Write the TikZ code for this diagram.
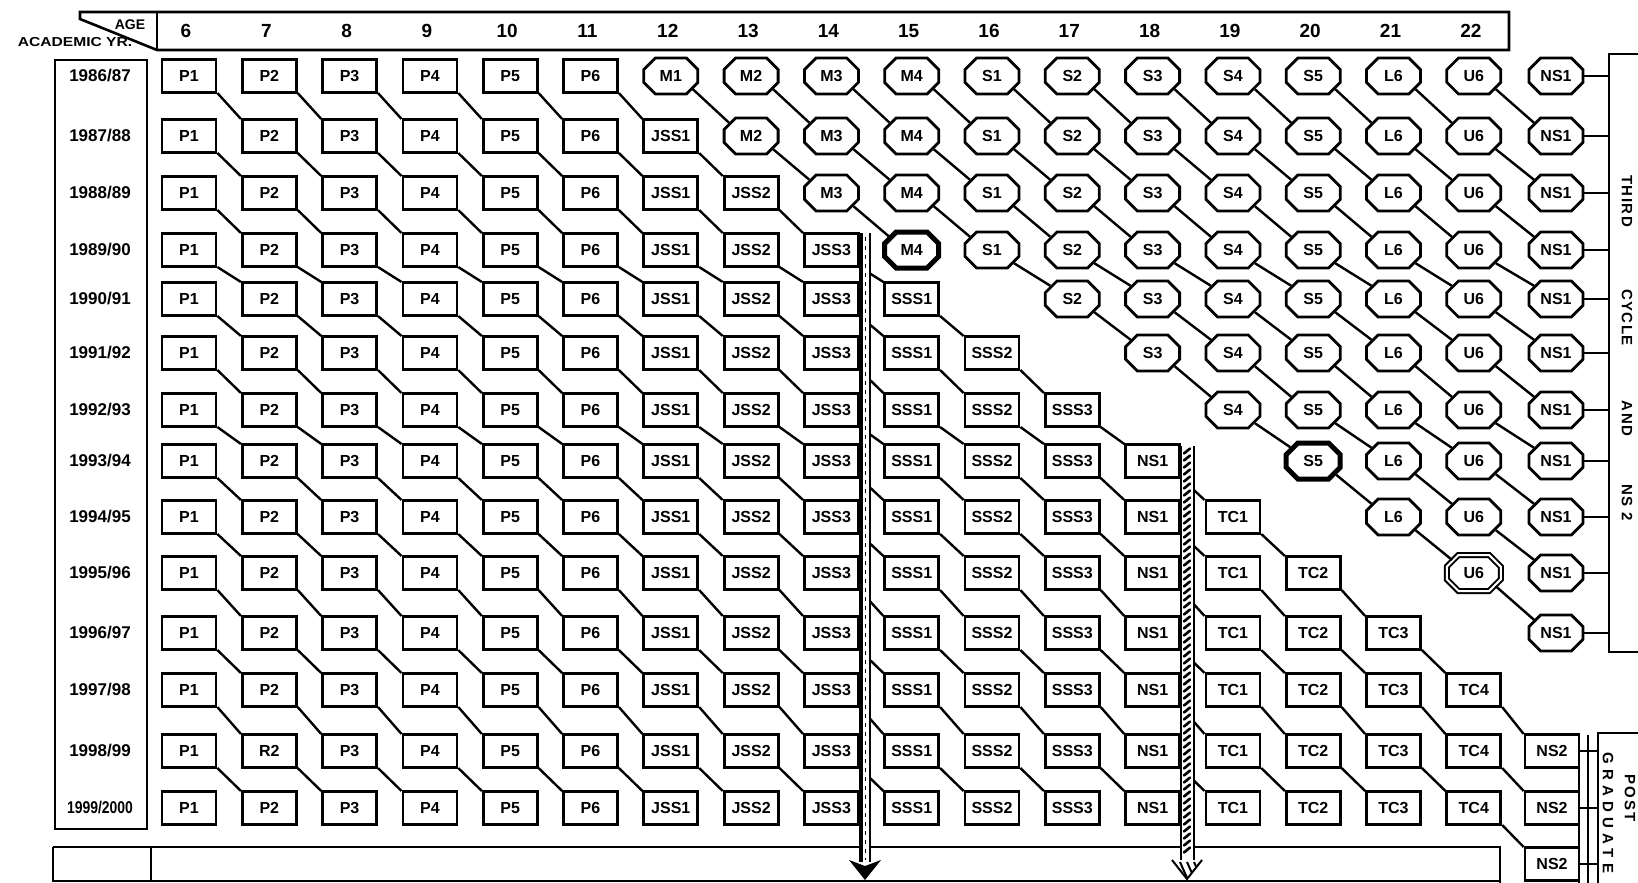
\documentclass[tikz,border=0pt]{standalone}
\usepackage{fontspec}
\setmainfont{Liberation Sans}
\usetikzlibrary{shapes.misc}
\makeatletter
\newcommand\IfNodeTF[3]{\pgfutil@ifundefined{pgf@sh@ns@#1}{#3}{#2}}
\makeatother
\newcommand\rowlist{{76,136,193,250,299,353,410,461,517,573,633,690,751,808,864}}
\tikzset{
  lbl/.style={font=\fontsize{16}{16}\selectfont\bfseries},
  rbox/.style={draw, rectangle, line width=2.8pt, minimum width=54pt, minimum height=33pt, inner sep=0pt, fill=white, lbl},
  obox/.style={draw, chamfered rectangle, chamfered rectangle xsep=9pt, chamfered rectangle ysep=6pt, line width=2.8pt, minimum width=54pt, minimum height=36pt, inner sep=0pt, fill=white, lbl},
  boldbox/.style={obox, line width=5pt},
  dblbox/.style={obox, double, double distance=2pt, line width=2pt},
  link/.style={line width=2.4pt},
  frame/.style={line width=2.6pt},
  yr/.style={font=\fontsize{17}{17}\selectfont\bfseries, inner sep=0pt},
  age/.style={font=\fontsize{19}{19}\selectfont\bfseries, inner sep=0pt},
  side/.style={font=\fontsize{15}{15}\selectfont\bfseries\addfontfeature{LetterSpace=10}, inner sep=0pt, rotate=-90},
  gradtext/.style={font=\fontsize{15}{15}\selectfont\bfseries\addfontfeature{LetterSpace=35}, inner sep=0pt, rotate=-90},
  posttext/.style={font=\fontsize{15}{15}\selectfont\bfseries\addfontfeature{LetterSpace=15}, inner sep=0pt, rotate=-90},
}
\begin{document}
\begin{tikzpicture}[x=1pt,y=-1pt]
\useasboundingbox (0,0) rectangle (1638,883);
% ---------- header ----------
\draw[frame] (80,12) -- (1509,12) -- (1509,50) -- (157,50) -- (80,19) -- cycle;
\draw[frame] (157,12) -- (157,50);
\node[font=\fontsize{14}{14}\selectfont\bfseries, inner sep=0pt] (agelbl) at (130,25) {AGE};
\node[font=\fontsize{13}{13}\selectfont\bfseries, inner sep=0pt] (yrlbl) at (75,42) {\scalebox{1.2}[1]{ACADEMIC YR.}};
\foreach \cl in {0,...,16}{
  \pgfmathtruncatemacro\ag{\cl+6}
  \node[age] (h\cl) at ({186+80.3*\cl},31) {\ag};
}
% ---------- year column ----------
\draw[frame] (55,60) rectangle (147,829);
\foreach \rw/\yr in {0/1986\slash87,1/1987\slash88,2/1988\slash89,3/1989\slash90,4/1990\slash91,5/1991\slash92,6/1992\slash93,7/1993\slash94,8/1994\slash95,9/1995\slash96,10/1996\slash97,11/1997\slash98,12/1998\slash99}{
  \pgfmathsetmacro\yy{\rowlist[\rw]}
  \node[yr] (y\rw) at (100,\yy) {\yr};
}
\pgfmathsetmacro\yy{\rowlist[13]}
\node[yr] (y13) at (100,\yy) {\scalebox{0.82}[1]{1999/2000}};
% ---------- bottom frame ----------
\draw[frame] (53,847) -- (1500,847) -- (1500,883);
\draw[frame] (53,847) -- (53,881) -- (1500,881);
\draw[frame] (151,847) -- (151,881);
% ---------- P boxes ----------
\foreach \rw in {0,...,13}{
  \pgfmathsetmacro\yy{\rowlist[\rw]}
  \foreach \cl in {0,...,5}{
    \pgfmathtruncatemacro\k{\cl+1}
    \node[rbox] (n\rw-\cl) at ({189+80.3*\cl},\yy) {\ifnum\rw\cl=121 R\else P\fi\k};
  }
}
% ---------- new system ----------
\foreach \cl/\lab in {6/JSS1,7/JSS2,8/JSS3,9/SSS1,10/SSS2,11/SSS3,12/NS1,13/TC1,14/TC2,15/TC3,16/TC4}{
  \pgfmathtruncatemacro\rs{\cl-5}
  \foreach \rw in {\rs,...,13}{
    \pgfmathsetmacro\yy{\rowlist[\rw]}
    \node[rbox] (n\rw-\cl) at ({189+80.3*\cl},\yy) {\lab};
  }
}
\foreach \rw in {12,13,14}{
  \pgfmathsetmacro\yy{\rowlist[\rw]}
  \node[rbox] (n\rw-17) at (1552,\yy) {NS2};
}
% ---------- old system ----------
\node[boldbox] (n3-9) at ({189+80.3*9},250) {M4};
\node[boldbox] (n7-14) at ({189+80.3*14},461) {S5};
\node[dblbox] (n9-16) at ({189+80.3*16},573) {U6};
\foreach \cl/\lab in {6/M1,7/M2,8/M3,9/M4,10/S1,11/S2,12/S3,13/S4,14/S5,15/L6,16/U6}{
  \pgfmathtruncatemacro\re{\cl<10 ? \cl-6 : \cl-7}
  \foreach \rw in {0,...,\re}{
    \pgfmathsetmacro\yy{\rowlist[\rw]}
    \IfNodeTF{n\rw-\cl}{}{\node[obox] (n\rw-\cl) at ({189+80.3*\cl},\yy) {\lab};}
  }
}
\foreach \rw in {0,...,10}{
  \pgfmathsetmacro\yy{\rowlist[\rw]}
  \node[obox] (n\rw-17) at (1556,\yy) {NS1};
}
% ---------- connectors ----------
\foreach \rw in {0,...,13}{
  \foreach \cl in {0,...,16}{
    \pgfmathtruncatemacro\rr{\rw+1}
    \pgfmathtruncatemacro\cc{\cl+1}
    \IfNodeTF{n\rw-\cl}{\IfNodeTF{n\rr-\cc}{\draw[link] (n\rw-\cl.-31) -- (n\rr-\cc.149);}{}}{}
  }
}
% ---------- third cycle bracket ----------
\coordinate (brT) at (1609,54);
\coordinate (brB) at (1609,652);
\draw[frame] (1638,54) -- (brT) -- (brB) -- (1638,652);
\foreach \rw in {0,...,10}{
  \draw[link] (n\rw-17.east) -- (n\rw-17.east -| brT);
}
\node[side] (third) at (1627,348) {THIRD\hspace{62pt}CYCLE\hspace{55pt}AND\hspace{48pt}NS 2};
% ---------- post graduate ----------
\coordinate (pgA) at (1579,735);
\coordinate (pgB) at (1588,735);
\coordinate (pgR) at (1598,733);
\draw[line width=2pt] (pgA) -- (1579,883);
\draw[line width=2pt] (pgB) -- (1588,883);
\draw[frame] (1638,733) -- (pgR) -- (1598,883);
\foreach \rw in {12,13,14}{
  \draw[link] (n\rw-17.east) -- (n\rw-17.east -| pgR);
}
\node[gradtext] (grad) at (1608,813) {GRADUATE};
\node[posttext] (post) at (1630,798) {POST};
% ---------- arrow 1 ----------
\coordinate (a1t) at (865,233);
\coordinate (a1b) at (865,880);
\fill[white] (860,233) rectangle (871,862);
\draw[line width=3.6pt] (861,233) -- (861,862);
\draw[line width=2pt] (869.5,233) -- (869.5,862);
\draw[line width=1.6pt, dash pattern=on 4pt off 5pt] (865.5,237) -- (865.5,860);
\fill (849,860) -- (865,866) -- (881,860) -- (a1b) -- cycle;
% ---------- arrow 2 ----------
\coordinate (a2t) at (1187,446);
\coordinate (a2b) at (1187,879);
\fill[white] (1180,446) rectangle (1194,860);
\draw[line width=2pt] (1180.5,446) -- (1180.5,860);
\draw[line width=2pt] (1193.5,446) -- (1193.5,860);
\foreach \yy in {451,458,...,856}{
  \draw[line width=2.6pt, line cap=round] (1184,\yy+2.5) -- (1190,\yy-2.5);
}
\fill[white] (1172,860) -- (1202,860) -- (a2b) -- cycle;
\begin{scope}
  \clip (1172,860) -- (1202,860) -- (a2b) -- cycle;
  \foreach \xx in {1166,1173,...,1206}{
    \draw[line width=2pt] (\xx,862) -- (\xx+8,880);
  }
\end{scope}
\draw[line width=2pt] (1172,860) -- (a2b) -- (1202,860);
\end{tikzpicture}
\end{document}
